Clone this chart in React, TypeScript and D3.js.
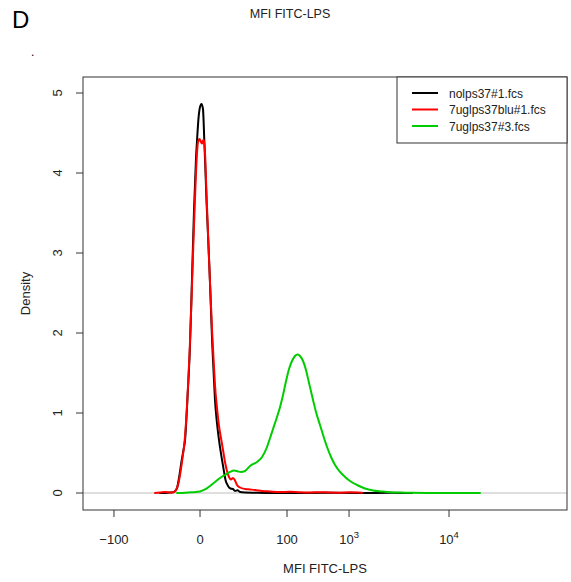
import React from "react";
import * as d3 from "d3";

// Transformed MFI channel units (flow cytometry display transform)
const xTickValues = [-0.989, 0, 1, 1.713, 2.862];
const xTickLabels = [
  { base: "\u2212100", sup: "" },
  { base: "0", sup: "" },
  { base: "100", sup: "" },
  { base: "10", sup: "3" },
  { base: "10", sup: "4" },
];
const yTickValues = [0, 1, 2, 3, 4, 5];

const seriesNames = ["nolps37#1.fcs", "7uglps37blu#1.fcs", "7uglps37#3.fcs"];
const seriesColors = ["#000000", "#ff0000", "#00cd00"];

const nolps: [number, number][] = [
  [-0.46, 0], [-0.368, 0.004], [-0.31, 0.009], [-0.282, 0.031], [-0.264, 0.063],
  [-0.236, 0.225], [-0.21, 0.413], [-0.19, 0.538], [-0.172, 0.663], [-0.144, 1.188],
  [-0.115, 1.85], [-0.092, 2.688], [-0.069, 3.538], [-0.046, 4.188], [-0.034, 4.413],
  [-0.017, 4.688], [0, 4.825], [0.017, 4.863], [0.034, 4.8], [0.049, 4.413],
  [0.063, 4.013], [0.075, 3.638], [0.092, 3.225], [0.109, 2.788], [0.126, 2.288],
  [0.141, 1.85], [0.155, 1.538], [0.172, 1.163], [0.195, 0.875], [0.218, 0.663],
  [0.253, 0.413], [0.276, 0.263], [0.293, 0.163], [0.322, 0.088], [0.351, 0.056],
  [0.379, 0.05], [0.402, 0.025], [0.431, 0.034], [0.46, 0.013], [0.517, 0.006],
  [0.632, 0.003], [0.805, 0.0], [1.149, 0.001], [1.494, 0.003], [1.839, 0.001],
  [2.184, 0.002], [2.437, 0.0],
];

const lps7blu: [number, number][] = [
  [-0.517, 0], [-0.46, 0.006], [-0.402, 0.013], [-0.345, 0.006], [-0.299, 0.013],
  [-0.27, 0.05], [-0.247, 0.125], [-0.224, 0.263], [-0.201, 0.438], [-0.178, 0.638],
  [-0.149, 1.1], [-0.121, 1.725], [-0.098, 2.413], [-0.075, 3.163], [-0.052, 3.85],
  [-0.034, 4.263], [-0.023, 4.388], [-0.006, 4.425], [0.011, 4.388], [0.023, 4.369],
  [0.034, 4.406], [0.046, 4.413], [0.057, 4.263], [0.069, 3.913], [0.086, 3.413],
  [0.103, 2.938], [0.121, 2.475], [0.138, 2.038], [0.155, 1.688], [0.172, 1.35],
  [0.195, 1.063], [0.218, 0.838], [0.247, 0.65], [0.27, 0.5], [0.287, 0.388],
  [0.31, 0.275], [0.333, 0.2], [0.356, 0.169], [0.379, 0.188], [0.402, 0.156],
  [0.425, 0.1], [0.46, 0.069], [0.517, 0.05], [0.575, 0.044], [0.632, 0.038],
  [0.713, 0.025], [0.805, 0.019], [0.92, 0.013], [1.034, 0.015], [1.149, 0.009],
  [1.264, 0.006], [1.379, 0.01], [1.494, 0.006], [1.609, 0.004], [1.724, 0.008],
  [1.862, 0.003],
];

const lps7: [number, number][] = [
  [-0.264, 0], [-0.172, 0.003], [-0.092, 0.009], [0, 0.019], [0.057, 0.044],
  [0.115, 0.088], [0.172, 0.138], [0.23, 0.188], [0.287, 0.225], [0.345, 0.263],
  [0.391, 0.281], [0.437, 0.269], [0.471, 0.263], [0.517, 0.275], [0.575, 0.338],
  [0.655, 0.388], [0.713, 0.45], [0.77, 0.575], [0.805, 0.688], [0.839, 0.8],
  [0.885, 0.95], [0.92, 1.075], [0.954, 1.225], [0.989, 1.4], [1.023, 1.55],
  [1.057, 1.65], [1.092, 1.713], [1.121, 1.731], [1.149, 1.713], [1.184, 1.65],
  [1.218, 1.538], [1.253, 1.375], [1.299, 1.163], [1.333, 1.013], [1.379, 0.85],
  [1.425, 0.688], [1.46, 0.575], [1.506, 0.45], [1.552, 0.35], [1.609, 0.263],
  [1.667, 0.2], [1.724, 0.15], [1.805, 0.1], [1.897, 0.056], [1.989, 0.031],
  [2.092, 0.019], [2.184, 0.01], [2.299, 0.005], [2.448, 0.002], [2.759, 0.001],
  [3.218, 0],
];

const seriesData = [nolps, lps7blu, lps7];

const W = 571;
const H = 582;
const plotL = 83;
const plotR = 567;
const plotT = 77;
const plotB = 510;
const font = "'Liberation Sans', Arial, Helvetica, sans-serif";

export default function App() {
  const x = d3.scaleLinear().domain([-1.345, 4.218]).range([plotL, plotR]);
  const y = d3.scaleLinear().domain([-0.2125, 5.2]).range([plotB, plotT]);
  const line = d3
    .line<[number, number]>()
    .x((d) => x(d[0]))
    .y((d) => y(d[1]))
    .curve(d3.curveMonotoneX);

  const legX = 397;
  const legY = plotT;
  const legW = plotR - legX;
  const legH = 66;

  return (
    <svg
      width={W}
      height={H}
      style={{ position: "absolute", left: 0, top: 0, background: "#fff" }}
      fontFamily={font}
    >
      <rect x={0} y={0} width={W} height={H} fill="#fff" />
      <text x={12} y={28} fontSize={24} fill="#000">D</text>
      <text x={31} y={56} fontSize={12} fill="#000">.</text>
      <text x={290} y={18} fontSize={12.5} textAnchor="middle" fill="#222">
        MFI FITC-LPS
      </text>

      {/* baseline */}
      <line x1={plotL} x2={plotR} y1={y(0)} y2={y(0)} stroke="#bebebe" strokeWidth={1} />

      {/* curves */}
      {seriesData.map((s, i) => (
        <path
          key={i}
          d={line(s) || ""}
          fill="none"
          stroke={seriesColors[i]}
          strokeWidth={2}
          strokeLinejoin="round"
          strokeLinecap="round"
        />
      ))}

      {/* frame */}
      <rect
        x={plotL}
        y={plotT}
        width={plotR - plotL}
        height={plotB - plotT}
        fill="none"
        stroke="#333"
        strokeWidth={1}
      />

      {/* y axis */}
      {yTickValues.map((v) => (
        <g key={v}>
          <line x1={plotL - 7} x2={plotL} y1={y(v)} y2={y(v)} stroke="#333" />
          <text
            transform={`translate(${plotL - 21},${y(v)}) rotate(-90)`}
            textAnchor="middle"
            fontSize={13}
            fill="#222"
          >
            {v}
          </text>
        </g>
      ))}
      <text
        transform={`translate(30,${(plotT + plotB) / 2}) rotate(-90)`}
        textAnchor="middle"
        fontSize={13}
        fill="#222"
      >
        Density
      </text>

      {/* x axis */}
      {xTickValues.map((v, i) => (
        <g key={i}>
          <line x1={x(v)} x2={x(v)} y1={plotB} y2={plotB + 7} stroke="#333" />
          <text x={x(v)} y={544} textAnchor="middle" fontSize={13} fill="#222">
            {xTickLabels[i].base}
            {xTickLabels[i].sup ? (
              <tspan dy={-6} fontSize={9.5}>
                {xTickLabels[i].sup}
              </tspan>
            ) : null}
          </text>
        </g>
      ))}
      <text x={(plotL + plotR) / 2} y={573} textAnchor="middle" fontSize={13} fill="#222">
        MFI FITC-LPS
      </text>

      {/* legend */}
      <rect x={legX} y={legY} width={legW} height={legH} fill="#fff" stroke="#333" strokeWidth={1} />
      {seriesNames.map((n, i) => (
        <g key={n}>
          <line
            x1={legX + 15}
            x2={legX + 41}
            y1={legY + 16 + i * 16.5}
            y2={legY + 16 + i * 16.5}
            stroke={seriesColors[i]}
            strokeWidth={2}
          />
          <text x={legX + 52} y={legY + 20.5 + i * 16.5} fontSize={12} fill="#222">
            {n}
          </text>
        </g>
      ))}
    </svg>
  );
}
